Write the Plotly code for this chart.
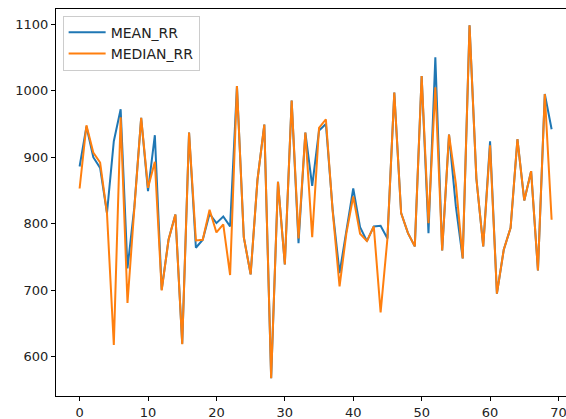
import plotly.graph_objects as go

x_index = list(range(70))

mean_rr = [886, 946, 900, 884, 816, 924, 972, 733, 825, 959,
           849, 933, 701, 776, 814, 620, 937, 764, 776, 815,
           801, 811, 796, 1007, 780, 724, 866, 949, 568, 863,
           739, 985, 771, 937, 857, 940, 950, 820, 726, 787,
           853, 795, 774, 796, 797, 778, 997, 816, 786, 766,
           1022, 786, 1050, 760, 934, 826, 748, 1098, 868, 766,
           924, 695, 761, 794, 927, 835, 879, 730, 995, 942]

median_rr = [853, 948, 907, 892, 816, 618, 960, 681, 823, 959,
             854, 893, 700, 776, 814, 619, 937, 775, 776, 821,
             787, 799, 723, 1007, 780, 724, 866, 949, 568, 863,
             739, 985, 778, 937, 780, 944, 957, 818, 706, 786,
             841, 785, 774, 796, 667, 778, 997, 816, 786, 766,
             1022, 801, 1005, 760, 934, 860, 748, 1098, 868, 766,
             918, 695, 761, 794, 927, 835, 879, 730, 995, 806]

x_ticks = [0, 10, 20, 30, 40, 50, 60, 70]
y_ticks = [600, 700, 800, 900, 1000, 1100]

fig = go.Figure()
fig.add_trace(go.Scatter(x=x_index, y=mean_rr, mode="lines", name="MEAN_RR",
                         line=dict(color="#1f77b4", width=2)))
fig.add_trace(go.Scatter(x=x_index, y=median_rr, mode="lines", name="MEDIAN_RR",
                         line=dict(color="#ff7f0e", width=2)))

fig.update_layout(
    width=566, height=419,
    margin=dict(l=56, r=0, t=9, b=23),
    paper_bgcolor="white", plot_bgcolor="white",
    font=dict(family="DejaVu Sans", size=13, color="#222"),
    showlegend=True,
    legend=dict(x=0.013, y=0.983, xanchor="left", yanchor="top",
                bgcolor="rgba(255,255,255,0.8)", bordercolor="#cccccc", borderwidth=1,
                font=dict(size=14), itemwidth=37, tracegroupgap=0),
)
fig.update_xaxes(range=[-3.45, 71.1], tickvals=x_ticks, showgrid=False, zeroline=False,
                 showline=True, linecolor="black", linewidth=1, mirror=True,
                 ticks="outside", ticklen=4, tickcolor="black",
                 ticklabeloverflow="allow")
fig.update_yaxes(range=[541.3, 1122.6], tickvals=y_ticks, showgrid=False, zeroline=False,
                 showline=True, linecolor="black", linewidth=1,
                 ticks="outside", ticklen=4, tickcolor="black")

fig.write_html("out.html", config={"displayModeBar": False},
               post_script="document.body.style.margin='0';")
